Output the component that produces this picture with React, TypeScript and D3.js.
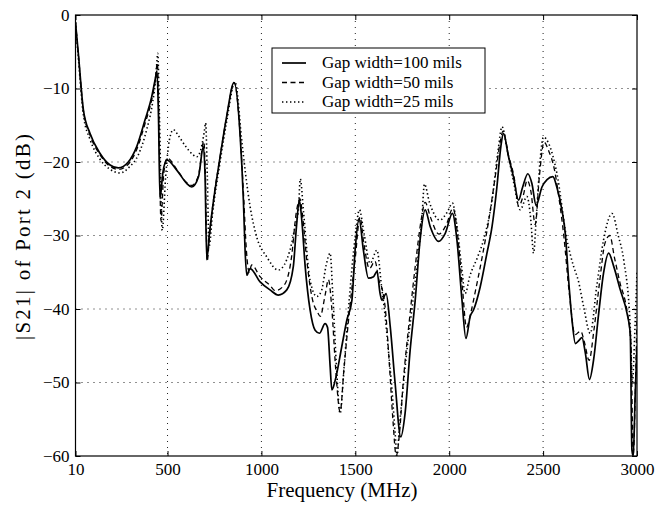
import React, { useRef, useEffect } from 'react'
import * as d3 from 'd3'

// |S21| of port 2: [frequency MHz, dB]
const gap100: [number, number][] = [
  [10, -1], [25, -5.2], [52, -12.9], [87, -16.1], [140, -18.8], [194, -20.4], [238, -20.8],
  [291, -20], [336, -17.9], [380, -14.3], [416, -11.1], [434, -8.8], [444, -7.6], [452, -14],
  [460, -25], [475, -21.5], [496, -19.7], [549, -21.1], [602, -22.9], [629, -23.4], [665, -22],
  [691, -17.9], [700, -22], [709, -33.3], [722, -30], [736, -27], [780, -19.3], [815, -13.8],
  [854, -9.2], [886, -16.1], [904, -25.2], [913, -32], [922, -35.4], [940, -34.5], [993, -36.3],
  [1046, -37.4], [1090, -38.1], [1135, -37.4], [1170, -34.2], [1186, -29], [1202, -25.2],
  [1215, -27.9], [1233, -34.2], [1259, -40.1], [1286, -42.9], [1309, -43.3], [1339, -42],
  [1352, -42.5], [1366, -47.8], [1375, -51], [1393, -49.7], [1428, -45.1], [1455, -41.5],
  [1482, -38.8], [1499, -32], [1520, -27.7], [1543, -32], [1570, -35.8], [1597, -35.6],
  [1615, -34.9], [1632, -37.9], [1641, -38.8], [1664, -37.9], [1686, -42.4], [1712, -50.1],
  [1742, -57.4], [1765, -54.2], [1792, -45.6], [1819, -38.8], [1845, -30.6], [1872, -26.5],
  [1899, -28.8], [1943, -30.8], [1979, -29.7], [2017, -27], [2041, -30.6], [2068, -38.8],
  [2089, -44], [2112, -41], [2130, -40.1], [2165, -37], [2201, -32.4], [2228, -28.8],
  [2254, -23.4], [2275, -17.9], [2289, -16.1], [2316, -19.3], [2342, -22], [2369, -25.2],
  [2390, -23.5], [2419, -21.6], [2440, -22.9], [2463, -25.9], [2494, -23.4], [2521, -22.4],
  [2552, -22], [2573, -23.4], [2600, -26.5], [2618, -29.7], [2636, -36.1], [2654, -41.5],
  [2672, -44.7], [2690, -44.3], [2707, -43.9], [2725, -46], [2747, -49.6], [2769, -46.9],
  [2796, -40.6], [2822, -35.1], [2849, -32.4], [2876, -34.2], [2911, -37.4], [2947, -40.6],
  [2964, -43.3], [2973, -59.2], [2980, -60], [2990, -52], [3000, -45],
]

const gap50: [number, number][] = [
  [10, -1], [25, -5.3], [52, -13], [87, -16.3], [140, -19], [194, -20.6], [240, -21],
  [291, -20.3], [336, -18.3], [380, -14.8], [416, -11.5], [434, -9], [446, -6.5], [454, -14],
  [465, -28], [480, -21.5], [500, -19.5], [549, -21], [602, -22.8], [629, -23.2], [665, -21.8],
  [693, -17.2], [702, -22], [711, -33.5], [724, -30], [736, -27], [780, -19.3], [815, -13.8],
  [856, -9.2], [886, -16], [906, -25], [920, -32], [935, -35], [948, -34], [993, -35.6],
  [1046, -36.8], [1073, -37.5], [1120, -36.8], [1160, -33], [1185, -27], [1205, -25],
  [1220, -27.5], [1240, -33], [1270, -38.5], [1300, -40.5], [1313, -41], [1340, -38],
  [1357, -36], [1375, -40], [1395, -48], [1419, -54], [1440, -48], [1470, -40], [1500, -33],
  [1525, -27.5], [1545, -31], [1575, -34.5], [1605, -33.5], [1625, -36], [1645, -37.5],
  [1660, -40], [1680, -47], [1700, -55], [1718, -60], [1735, -57], [1755, -50], [1790, -41],
  [1820, -34], [1850, -28], [1872, -25.5], [1900, -27.5], [1945, -29.8], [1985, -28.5],
  [2020, -26.3], [2045, -30], [2070, -37], [2092, -42.5], [2115, -40.5], [2140, -37.5],
  [2175, -33], [2210, -28], [2245, -22], [2270, -17.5], [2287, -15.8], [2315, -19],
  [2345, -22], [2370, -26], [2395, -24.5], [2415, -22.5], [2435, -24], [2458, -28.5],
  [2480, -22], [2505, -17.3], [2530, -18.5], [2560, -21], [2585, -25], [2610, -30],
  [2640, -38], [2670, -43.5], [2700, -43], [2720, -44.5], [2745, -47], [2770, -43],
  [2800, -36.5], [2830, -31], [2855, -30], [2880, -33], [2910, -36.5], [2945, -40],
  [2968, -45], [2980, -60], [2992, -50], [3000, -41],
]

const gap25: [number, number][] = [
  [10, -1], [25, -5.8], [52, -13.6], [87, -16.9], [140, -19.6], [194, -21], [247, -21.5],
  [300, -20.6], [345, -19], [390, -15.5], [420, -12], [438, -8.5], [448, -5.2], [458, -15],
  [472, -29.3], [490, -22], [510, -17], [531, -15.6], [560, -16.5], [600, -18], [635, -19],
  [655, -19.3], [675, -18.5], [695, -16], [703, -14.7], [712, -22], [721, -31.5], [740, -27],
  [780, -20], [815, -14.5], [860, -9.1], [895, -17], [915, -21.5], [940, -26.1], [975, -30.2],
  [1028, -32.9], [1090, -34.7], [1152, -32], [1179, -28.8], [1197, -26.5], [1207, -22.3],
  [1225, -27], [1259, -36.1], [1295, -38.3], [1320, -37.5], [1345, -34], [1366, -32.4],
  [1380, -38], [1400, -48], [1419, -54.2], [1440, -48], [1470, -38], [1500, -30],
  [1522, -26.5], [1545, -29.5], [1579, -33.8], [1615, -32], [1640, -37], [1659, -41],
  [1676, -45.6], [1694, -50.6], [1712, -56.9], [1722, -60], [1735, -56], [1748, -52.4],
  [1775, -45.6], [1801, -40.1], [1828, -34.2], [1854, -27.9], [1868, -23], [1895, -25.5],
  [1950, -27.9], [1990, -26.8], [2017, -25.6], [2040, -28.5], [2065, -34], [2085, -37.9],
  [2110, -35.5], [2150, -33], [2183, -30.6], [2228, -25.2], [2260, -18.5], [2281, -15.2],
  [2310, -18.5], [2345, -23], [2378, -26.5], [2414, -24.7], [2435, -28], [2449, -32.4],
  [2465, -27], [2485, -19.5], [2502, -16.6], [2530, -17.5], [2573, -21.5], [2627, -30.6],
  [2660, -34], [2689, -36.3], [2716, -39.7], [2751, -43.3], [2785, -37], [2822, -30.6],
  [2867, -27], [2900, -30], [2929, -33.3], [2964, -42.4], [2975, -50], [2990, -42], [3000, -35],
]

const xTicks = [10, 500, 1000, 1500, 2000, 2500, 3000]
const yTicks = [0, -10, -20, -30, -40, -50, -60]
const legendLabels = ['Gap width=100 mils', 'Gap width=50 mils', 'Gap width=25 mils']

const W = 661
const H = 506
const FONT = '"Liberation Serif", "Times New Roman", serif'

const App = () => {
  const svgEl = useRef<SVGSVGElement | null>(null)

  useEffect(() => {
    if (!svgEl.current) return
    const svg = d3.select(svgEl.current)
    svg.selectAll('*').remove()

    const left = 75.5, right = 637, top = 15, bottom = 456
    const x = d3.scaleLinear().domain([10, 3000]).range([left, right])
    const y = d3.scaleLinear().domain([-60, 0]).range([bottom, top])

    svg.append('defs').append('clipPath').attr('id', 'plot')
      .append('rect').attr('x', left).attr('y', top)
      .attr('width', right - left).attr('height', bottom - top)

    // dotted grid
    const grid = svg.append('g').attr('stroke', '#222').attr('stroke-width', 1)
      .attr('stroke-dasharray', '1,5')
    grid.selectAll('.gx').data(xTicks.slice(1, -1)).enter().append('line')
      .attr('x1', d => x(d)).attr('x2', d => x(d)).attr('y1', top).attr('y2', bottom)
    grid.selectAll('.gy').data(yTicks.slice(1, -1)).enter().append('line')
      .attr('y1', d => y(d)).attr('y2', d => y(d)).attr('x1', left).attr('x2', right)

    // axes with inward ticks
    const styleAxis = (g: any) => {
      g.select('.domain').remove()
      g.selectAll('text').attr('font-family', FONT).attr('font-size', 17).attr('fill', '#000')
      g.selectAll('line').attr('stroke', '#000')
    }
    svg.append('g').attr('transform', `translate(0,${bottom})`)
      .call(d3.axisBottom(x).tickValues(xTicks).tickSize(-5).tickPadding(7).tickFormat(d3.format('d')))
      .call(styleAxis)
    svg.append('g').attr('transform', `translate(0,${top})`)
      .call(d3.axisTop(x).tickValues(xTicks).tickSize(-5).tickFormat(() => ''))
      .call(styleAxis)
    svg.append('g').attr('transform', `translate(${left},0)`)
      .call(d3.axisLeft(y).tickValues(yTicks).tickSize(-5).tickPadding(6).tickFormat(d3.format('d')))
      .call(styleAxis)
    svg.append('g').attr('transform', `translate(${right},0)`)
      .call(d3.axisRight(y).tickValues(yTicks).tickSize(-5).tickFormat(() => ''))
      .call(styleAxis)

    // frame
    svg.append('rect').attr('x', left).attr('y', top)
      .attr('width', right - left).attr('height', bottom - top)
      .attr('fill', 'none').attr('stroke', '#000').attr('stroke-width', 1.2)

    const line = d3.line<[number, number]>()
      .x(d => x(d[0])).y(d => y(d[1]))
      .curve(d3.curveMonotoneX)

    const series = [
      { data: gap100, dash: null, width: 1.7 },
      { data: gap50, dash: '5,3.5', width: 1.3 },
      { data: gap25, dash: '1.4,2.6', width: 1.6 },
    ]
    const curves = svg.append('g').attr('clip-path', 'url(#plot)')
    series.slice().reverse().forEach(s => {
      curves.append('path').datum(s.data)
        .attr('d', line)
        .attr('fill', 'none')
        .attr('stroke', '#000')
        .attr('stroke-width', s.width)
        .attr('stroke-dasharray', s.dash)
    })

    // legend
    const lg = svg.append('g')
    lg.append('rect').attr('x', 272).attr('y', 48).attr('width', 213).attr('height', 65)
      .attr('fill', '#fff').attr('stroke', '#000').attr('stroke-width', 1)
    legendLabels.forEach((lab, i) => {
      const ly = 63 + i * 19.5
      lg.append('line').attr('x1', 282).attr('x2', 306).attr('y1', ly).attr('y2', ly)
        .attr('stroke', '#000').attr('stroke-width', series[i].width)
        .attr('stroke-dasharray', series[i].dash)
      lg.append('text').attr('x', 322).attr('y', ly + 5).text(lab)
        .attr('font-family', FONT).attr('font-size', 17)
    })

    // axis titles
    svg.append('text').attr('x', 342).attr('y', 497).attr('text-anchor', 'middle')
      .attr('font-family', FONT).attr('font-size', 21).text('Frequency (MHz)')
    svg.append('text').attr('transform', 'translate(30,237) rotate(-90)')
      .attr('text-anchor', 'middle').attr('font-family', FONT).attr('font-size', 21)
      .attr('textLength', 206).attr('lengthAdjust', 'spacing')
      .text('|S21| of Port 2 (dB)')
  }, [])

  return (
    <svg ref={svgEl} width={W} height={H}
      style={{ position: 'absolute', left: 0, top: 0, background: '#fff' }} />
  )
}

export default App
